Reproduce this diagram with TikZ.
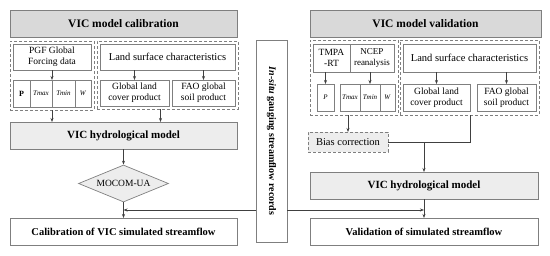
\documentclass[tikz,border=0pt]{standalone}
\usepackage{fontspec}
\setmainfont{Liberation Serif}
\usepackage{graphicx}
\definecolor{TitleGray}{HTML}{D9D9D9}
\definecolor{ModelGray}{HTML}{EDEDED}
\definecolor{BoxLine}{HTML}{7F7F7F}
\definecolor{ArrowGray}{HTML}{404040}
\usetikzlibrary{shapes.geometric, arrows.meta, positioning, fit}
\tikzset{
  base box/.style={
    rectangle, minimum width=#1, align=center,
    inner sep=1pt, outer sep=0pt, draw=BoxLine, line width=0.7pt
  },
  title box/.style={base box=#1, fill=TitleGray, minimum height=27pt,
    font=\fontsize{11.5}{14}\selectfont\bfseries},
  model box/.style={base box=#1, fill=ModelGray, minimum height=27pt,
    font=\fontsize{11}{13}\selectfont\bfseries},
  result box/.style={base box=#1, fill=white, minimum height=27pt,
    font=\fontsize{10.5}{12}\selectfont\bfseries},
  plain box/.style={base box=#1, fill=white, minimum height=26pt,
    font=\fontsize{9.5}{11}\selectfont},
  cell box/.style={base box=#1, fill=white, minimum height=27pt,
    font=\fontsize{7}{8}\selectfont},
  container/.style={rectangle, dashed, draw=BoxLine, line width=0.7pt,
    inner sep=3pt, dash pattern=on 3pt off 2pt},
  arrow/.style={-{Stealth[length=4pt, width=3pt]}, line width=0.6pt, draw=ArrowGray},
  joint/.style={line width=0.6pt, draw=ArrowGray},
}

\begin{document}
\begin{tikzpicture}[x=1pt, y=-1pt]
  \useasboundingbox (0,0) rectangle (550,255);

  % ── Calibration side ──────────────────────────────────────────────────────
  \node[title box=227pt] (calTitle) at (123.5,23.5) {VIC model calibration};

  \node[plain box=78pt] (pgf) at (52,57) {PGF Global\\Forcing data};
  \node[cell box=17pt, anchor=north west] (cP) at (13,80) {\fontsize{8}{9}\selectfont\textbf{P}};
  \node[cell box=22pt, right=0pt of cP]    (cTmax) {\textit{Tmax}};
  \node[cell box=23pt, right=0pt of cTmax] (cTmin) {\textit{Tmin}};
  \node[cell box=16pt, right=0pt of cTmin] (cW)    {\textit{W}};

  \node[plain box=135pt, font=\fontsize{10.5}{12}\selectfont] (land) at (167.5,57) {Land surface characteristics};
  \node[plain box=69pt] (glc) at (134.5,93) {Global land\\cover product};
  \node[plain box=63pt] (fao) at (203.5,93) {FAO global\\soil product};

  \node[container, fit=(pgf)(cP)(cW)] (forcL) {};
  \node[container, fit=(land)(glc)(fao)] (surfL) {};

  \node[model box=227pt] (hydroL) at (123.5,135.5) {VIC hydrological model};
  \node[diamond, aspect=2.5, minimum width=90pt, minimum height=37pt, inner sep=0pt,
        fill=ModelGray, draw=BoxLine, line width=0.7pt,
        font=\fontsize{9.5}{11}\selectfont] (mocom) at (123.5,183.5) {MOCOM-UA};
  \node[result box=227pt] (calib) at (123.5,231.5) {Calibration of VIC simulated streamflow};

  % ── Observed streamflow ───────────────────────────────────────────────────
  \node[base box=31pt, minimum height=202pt, fill=white,
        font=\fontsize{10}{12}\selectfont\bfseries] (insitu) at (271.5,141)
    {\rotatebox{-90}{\textit{In-situ} gauging streamflow records}};

  % ── Validation side ───────────────────────────────────────────────────────
  \node[title box=231pt] (valTitle) at (425.5,23.5) {VIC model validation};

  \node[plain box=37pt, minimum height=28pt] (tmpa) at (331.5,58) {TMPA\\-RT};
  \node[plain box=44pt, minimum height=28pt, font=\fontsize{9}{10.5}\selectfont] (ncep) at (372,58) {NCEP\\reanalysis};
  \node[cell box=17pt] (rP) at (325.5,97.5) {\textit{P}};
  \node[cell box=20pt, anchor=north west] (rTmax) at (340,84) {\textit{Tmax}};
  \node[cell box=20pt, right=0pt of rTmax] (rTmin) {\textit{Tmin}};
  \node[cell box=15pt, right=0pt of rTmin] (rW)    {\textit{W}};

  \node[plain box=133pt, minimum height=28pt, font=\fontsize{10.5}{12}\selectfont] (landR) at (469.5,58) {Land surface characteristics};
  \node[plain box=67pt, minimum height=27pt] (glcR) at (436.5,97.5) {Global land\\cover product};
  \node[plain box=59pt, minimum height=27pt] (faoR) at (506.5,97.5) {FAO global\\soil product};

  \node[container, inner ysep=4pt, fit=(tmpa)(ncep)(rP)(rW)] (forcR) {};
  \node[container, inner ysep=4pt, fit=(landR)(glcR)(faoR)] (surfR) {};

  \node[base box=80pt, minimum height=20pt, fill=ModelGray, dashed, dash pattern=on 3pt off 2pt,
        font=\fontsize{10.5}{12}\selectfont] (bias) at (348,142) {Bias correction};
  \node[model box=228pt] (hydroR) at (424,185.5) {VIC hydrological model};
  \node[result box=228pt] (valid) at (424,231.5) {Validation of simulated streamflow};

  \coordinate (jL) at (123.5,210);
  \coordinate (jR) at (424,210);

  % ── Arrows ────────────────────────────────────────────────────────────────
  \draw[arrow] (pgf.south) -- (cTmin.north west);
  \draw[arrow] (glc.north |- land.south) -- (glc.north);
  \draw[arrow] (fao.north |- land.south) -- (fao.north);
  \draw[arrow] (forcL.south -| pgf.south) -- (hydroL.north -| pgf.south);
  \draw[arrow] ([xshift=-7pt]surfL.south) -- ([xshift=-7pt]surfL.south |- hydroL.north);
  \draw[arrow] (hydroL.south) -- (mocom.north);
  \draw[arrow] (mocom.south) -- (calib.north);
  \draw[arrow] (insitu.west |- jL) -- (jL);

  \draw[arrow] (rP.north |- tmpa.south) -- (rP.north);
  \draw[arrow] (rTmin.north |- ncep.south) -- (rTmin.north);
  \draw[arrow] (glcR.north |- landR.south) -- (glcR.north);
  \draw[arrow] (faoR.north |- landR.south) -- (faoR.north);
  \draw[arrow] (bias.north |- forcR.south) -- (bias.north);
  \draw[joint] (bias.east) -- (bias.east -| glcR.east) -- (glcR.east |- surfR.south);
  \draw[arrow] (hydroR.north |- bias.east) -- (hydroR.north);
  \draw[arrow] (hydroR.south) -- (valid.north);
  \draw[arrow] (insitu.east |- jR) -- (jR);

\end{tikzpicture}
\end{document}
